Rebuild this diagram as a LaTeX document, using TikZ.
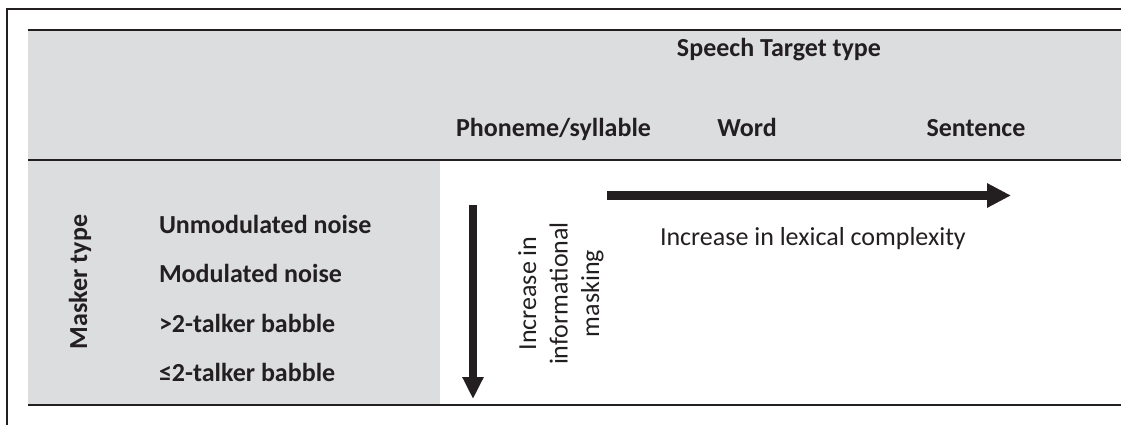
\documentclass[tikz,border=0pt]{standalone}
\usepackage{fontspec}
\setmainfont{Carlito}
\usetikzlibrary{arrows.meta}

\definecolor{cellgray}{HTML}{DCDDDF}
\definecolor{ink}{HTML}{231F20}

\begin{document}
\begin{tikzpicture}[x = 1pt, y = -1pt, line width = 2pt, draw = ink, text = ink,
  every node/.style = {inner sep = 0pt, font = \fontsize{26}{31.5}\selectfont},
  head/.style = {font = \fontsize{26}{31.5}\selectfont\bfseries, anchor = base},
  fat/.style = {line width = #1, draw = ink}]

\def\tl{28}
\def\tr{1125}

 \useasboundingbox (0, 0) rectangle (1121, 424);

 % frame
 \draw (7, 440) -- (7, 9) -- (\tr, 9);

 % shaded cells
 \fill[cellgray] (\tl, 30) rectangle (\tr, 159.5);
 \fill[cellgray] (\tl, 159.5) rectangle (440, 405);

 % rules
 \foreach \y in {30, 159.5, 405} {
  \draw (\tl, \y) -- (\tr, \y);
 }

 % header
 \node[head] (title) at (779, 56) {Speech Target type};
 \node[head] (phon) at (553.5, 136) {Phoneme/syllable};
 \node[head] (word) at (747, 136) {Word};
 \node[head] (sent) at (976, 136) {Sentence};

 % masker column
 \node[head, rotate = 90] (masker) at (87, 282) {Masker type};
 \foreach \name [count=\i from 0] in {Unmodulated noise, Modulated noise, >2-talker babble, ≤2-talker babble} {
  \node[head, anchor = base west] (mask\i) at (158, {233 + 49.6 * \i}) {\name};
 }

 % trends
 \coordinate (lexstart) at (607, 195.5);
 \coordinate (lexend) at (1011, 195.5);
 \draw[fat = 9pt, -{Triangle[length = 24pt, width = 23pt]}] (lexstart) -- (lexend);
 \node[anchor = base west] (lexlab) at (659, 245) {Increase in lexical complexity};

 \coordinate (infostart) at (473, 205);
 \coordinate (infoend) at (473, 399);
 \draw[fat = 7.5pt, -{Triangle[length = 22pt, width = 20pt]}] (infostart) -- (infoend);
 \node[rotate = 90, align = center] (infolab) at (561, 293.5) {Increase in\\informational\\masking};

\end{tikzpicture}
\end{document}
